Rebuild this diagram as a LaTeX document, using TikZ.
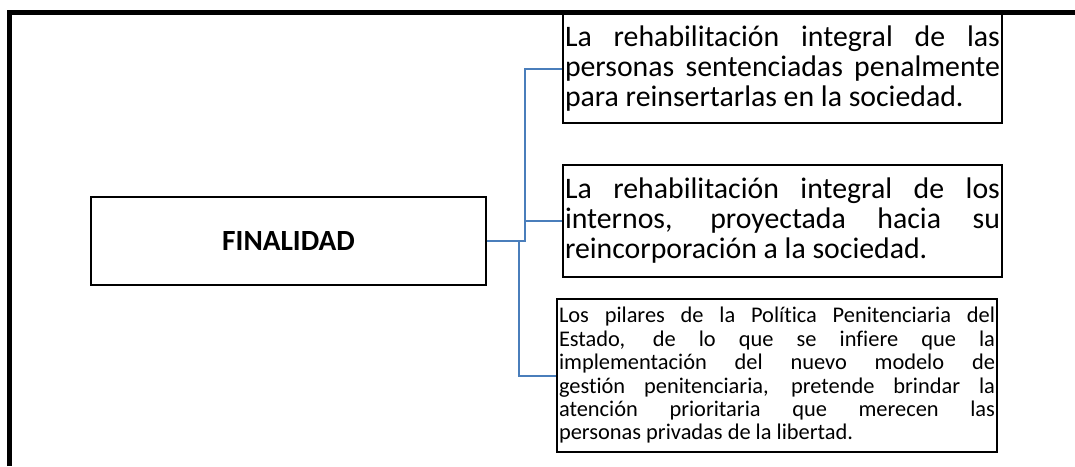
\documentclass[tikz,border=0pt]{standalone}
\usepackage{fontspec}
\setmainfont{Carlito}[Ligatures=NoCommon]
\definecolor{linkblue}{RGB}{74,126,187}
\tolerance=10000
\hyphenpenalty=10000

\begin{document}
\begin{tikzpicture}[x=1pt,y=-1pt,
  box/.style={draw, line width=1.4pt, inner xsep=2pt, inner ysep=0pt},
  goal/.style={box, text width=435pt, align=justify, font=\fontsize{29.8}{30}\selectfont},
  link/.style={draw=linkblue, line width=2pt}]
  \useasboundingbox (0,0) rectangle (1075,466);
  % outer frame
  \draw[line width=5pt] (9,466) -- (9,12) -- (1075,12);

  \node[box, minimum width=395pt, minimum height=88pt,
        font=\bfseries\fontsize{29.3}{30}\selectfont] (fin) at (288.5,241) {FINALIDAD};
  \node[goal, minimum height=109pt] (b1) at (782.5,68.5)
    {La rehabilitación integral de las\linebreak personas sentenciadas penalmente\linebreak para reinsertarlas en la sociedad.};
  \node[goal, minimum height=112pt] (b2) at (782.5,221)
    {La rehabilitación integral de los\linebreak internos, proyectada hacia su\linebreak reincorporación a la sociedad.};
  \node[box, text width=436pt, align=justify, minimum height=153pt,
        font=\fontsize{22.4}{23.4}\selectfont] (b3) at (777,375.5)
    {Los pilares de la Política Penitenciaria del\linebreak Estado, de lo que se infiere que la\linebreak implementación del nuevo modelo de\linebreak gestión penitenciaria, pretende brindar la\linebreak atención prioritaria que merecen las\linebreak personas privadas de la libertad.};

  \coordinate (hubup) at (525,241);
  \coordinate (hubdn) at (519,241);
  \draw[link] (fin.east) -- (hubup) |- (b1.west)
              (hubup) |- (b2.west);
  \draw[link] (hubdn) |- (b3.west);
\end{tikzpicture}
\end{document}
